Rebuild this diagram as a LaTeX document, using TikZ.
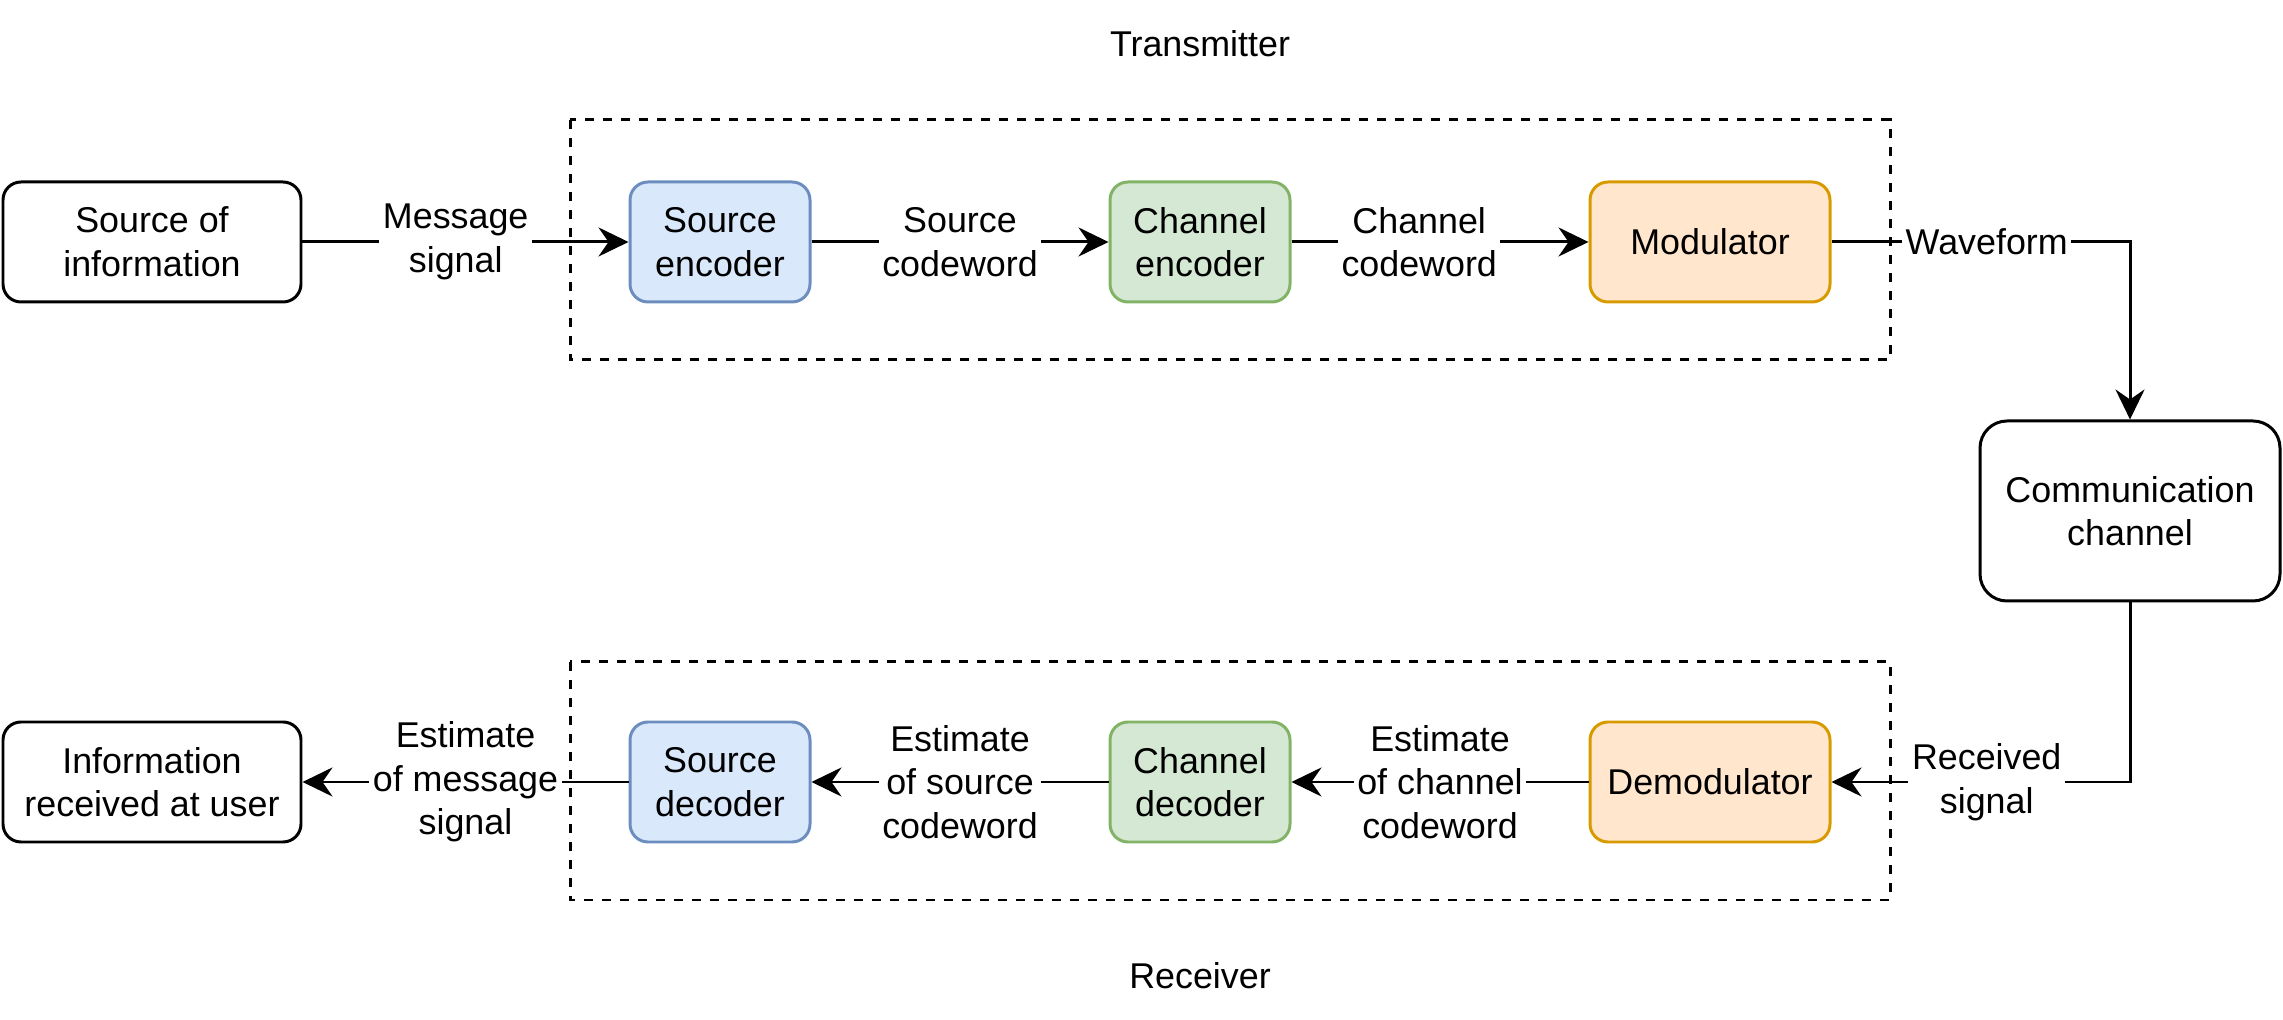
\documentclass[tikz,border=0pt]{standalone}
\usepackage{fontspec}
\setmainfont{Liberation Sans}
\usetikzlibrary{arrows.meta}
\definecolor{bluefill}{HTML}{DAE8FC}
\definecolor{bluedraw}{HTML}{6C8EBF}
\definecolor{greenfill}{HTML}{D5E8D4}
\definecolor{greendraw}{HTML}{82B366}
\definecolor{orangefill}{HTML}{FFE6CC}
\definecolor{orangedraw}{HTML}{D79B00}
\tikzstyle{bx}=[rectangle,draw=black,line width=.85pt,rounded corners=.18cm,align=center,inner sep=0pt,minimum height=1.2cm,font=\fontsize{10.2}{12.4}\selectfont]
\tikzstyle{sm}=[bx,minimum width=1.8cm]
\tikzstyle{bl}=[sm,fill=bluefill,draw=bluedraw]
\tikzstyle{gr}=[sm,fill=greenfill,draw=greendraw]
\tikzstyle{og}=[bx,minimum width=2.4cm,fill=orangefill,draw=orangedraw]
\tikzstyle{lbl}=[fill=white,align=center,inner sep=1pt,font=\fontsize{10.2}{12.4}\selectfont]
\tikzstyle{ar}=[line width=.85pt,-{Stealth[length=3mm,width=2.9mm,inset=1mm]}]
\tikzstyle{grp}=[line width=.85pt,dash pattern=on .09cm off .09cm]

\begin{document}
\begin{tikzpicture}
\useasboundingbox (0,0) rectangle (22.83,-10.20);
% groups
\draw[grp] (5.7,-1.2) rectangle (18.9,-3.6);
\draw[grp] (5.7,-6.62) rectangle (18.9,-9.0);
\node[lbl] (tx) at (12.0,-.44) {Transmitter};
\node[lbl] (rx) at (12.0,-9.76) {Receiver};

% transmitter row
\node[bx,minimum width=2.98cm] (src) at (1.52,-2.42) {Source of\\information};
\node[bl] (senc) at (7.2,-2.42) {Source\\encoder};
\node[gr] (cenc) at (12.0,-2.42) {Channel\\encoder};
\node[og] (mod) at (17.1,-2.42) {Modulator};

% channel
\node[bx,minimum width=3.0cm,minimum height=1.8cm,rounded corners=.27cm] (chan) at (21.3,-5.11) {Communication\\channel};

% receiver row
\node[bx,minimum width=2.98cm] (usr) at (1.52,-7.82) {Information\\received at user};
\node[bl] (sdec) at (7.2,-7.82) {Source\\decoder};
\node[gr] (cdec) at (12.0,-7.82) {Channel\\decoder};
\node[og] (dem) at (17.1,-7.82) {Demodulator};

% links
\draw[ar] (src) -- node[lbl,pos=.47] {Message\\signal} (senc);
\draw[ar] (senc) -- node[lbl] {Source\\codeword} (cenc);
\draw[ar] (cenc) -- node[lbl,pos=.43] {Channel\\codeword} (mod);
\draw[ar] (mod) -| node[lbl,pos=.26] {Waveform} (chan);
\draw[ar] (chan) |- node[lbl,pos=.74] {Received\\signal} (dem);
\draw[ar] (dem) -- node[lbl] {Estimate\\of channel\\codeword} (cdec);
\draw[ar] (cdec) -- node[lbl] {Estimate\\of source\\codeword} (sdec);
\draw[ar] (sdec) -- node[lbl] {Estimate\\of message\\signal} (usr);
\end{tikzpicture}
\end{document}
